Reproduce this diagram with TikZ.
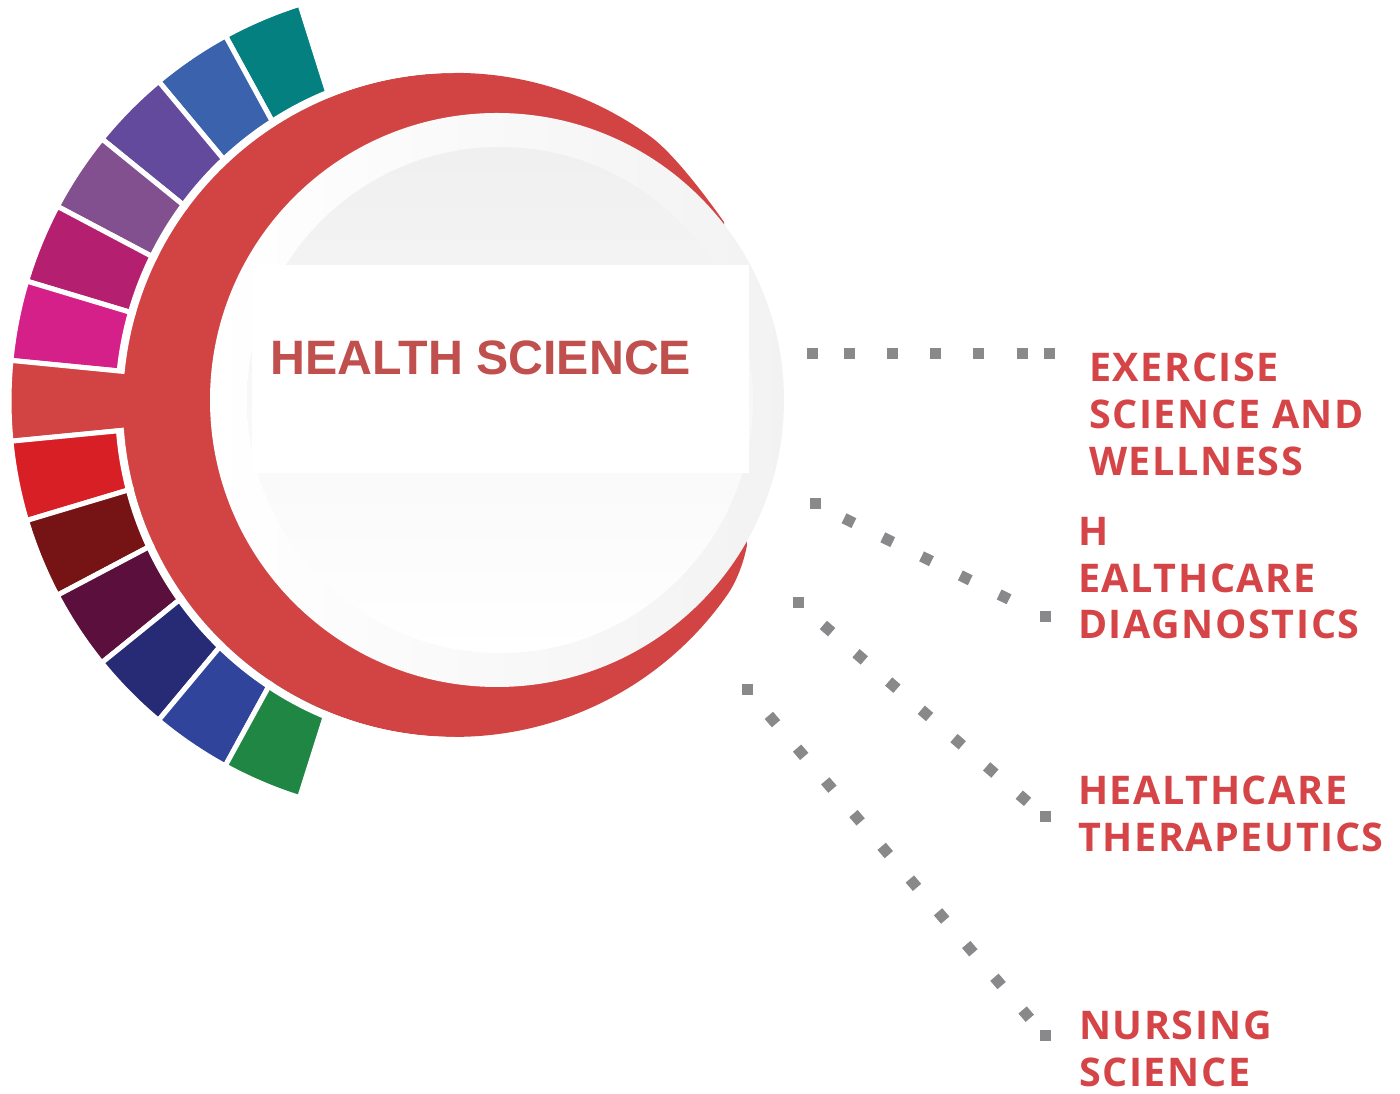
\documentclass[tikz,border=0pt]{standalone}
\usepackage{fontspec}
\newfontfamily\titlefont{Liberation Sans}
\newfontfamily\labelfont{Open Sans}[LetterSpace=4]

\definecolor{segteal}{RGB}{3,128,127}
\definecolor{segblue}{RGB}{58,98,173}
\definecolor{segpurple}{RGB}{100,74,156}
\definecolor{segviolet}{RGB}{131,80,143}
\definecolor{segmagenta}{RGB}{180,31,112}
\definecolor{segpink}{RGB}{213,32,137}
\definecolor{diskred}{RGB}{210,67,68}
\definecolor{segred}{RGB}{217,31,38}
\definecolor{segmaroon}{RGB}{118,19,21}
\definecolor{segplum}{RGB}{91,15,61}
\definecolor{segnavy}{RGB}{39,42,116}
\definecolor{segroyal}{RGB}{48,68,155}
\definecolor{seggreen}{RGB}{31,134,68}
\definecolor{dotgray}{RGB}{137,137,139}
\definecolor{titlered}{RGB}{192,80,78}
\definecolor{labelred}{RGB}{213,68,71}

\begin{document}
\begin{tikzpicture}[x=1pt, y=1pt,
    seg/.style={draw=white, line width=5pt},
    sq/.style={fill=dotgray, minimum size=11pt, inner sep=0pt},
    dotline/.style={draw=dotgray, line width=11pt, dash pattern=on 11pt off 32.2pt, dash phase=17.2pt, shorten >=3pt},
    lbl/.style={anchor=north west, inner sep=0pt, align=left, text=labelred,
        font=\labelfont\bfseries\fontsize{39.5}{46.8}\selectfont}]
\useasboundingbox (0,0) rectangle (1400,1094);
\coordinate (ring) at (425,693);
\coordinate (disc) at (455,689);
\coordinate (hub) at (497,694);

% colour band
\foreach \c [count=\i from 0] in {segteal,segblue,segpurple,segviolet,segmagenta,segpink,diskred,segred,segmaroon,segplum,segnavy,segroyal,seggreen} {
    \pgfmathsetmacro\a{107.5+11.15*\i}
    \pgfmathsetmacro\b{\a+11.15}
    \draw[seg, fill=\c, shift={(ring)}] (\a:280) -- (\a:416) arc[start angle=\a, end angle=\b, radius=416] -- (\b:280) arc[start angle=\b, end angle=\a, radius=280] -- cycle;
}

% red crescent and white centre
\fill[diskred] (724,872) .. controls (700,906) and (672,941) .. (652,956.3)
    arc[start angle=53.6, end angle=325.3, radius=332]
    .. controls (736.4,512.3) and (744,532) .. (747,549) -- cycle;
\draw[white, line width=8pt] (disc) ++(184.3:336) arc[start angle=184.3, end angle=270, radius=336];
\draw[white, line width=8pt] (disc) ++(90:336) arc[start angle=90, end angle=174.2, radius=336];
\shade[left color=white, right color=black!5] (hub) circle (287);
\shade[top color=black!6, bottom color=white] (500,694) circle (253);
\fill[white] (252,621) rectangle (749,829);
\node[text=titlered, font=\titlefont\bfseries\fontsize{48.3}{50}\selectfont, inner sep=0pt] (title) at (481,736) {HEALTH SCIENCE};

% connectors
\node[sq] (s1) at (812,740) {};
\node[sq] (e1) at (1049,740) {};
\node[sq] (s2) at (815,590) {};
\node[sq] (e2) at (1045,477) {};
\node[sq] (s3) at (798,491) {};
\node[sq] (e3) at (1045,277) {};
\node[sq] (s4) at (747,404) {};
\node[sq] (e4) at (1045,58) {};
\draw[dotline] (s1) -- (e1);
\draw[dotline] (s2) -- (e2);
\draw[dotline] (s3) -- (e3);
\draw[dotline] (s4) -- (e4);

% labels
\node[lbl] (exercise) at (1089,741) {EXERCISE\\SCIENCE AND\\WELLNESS};
\node[lbl] (diagnostics) at (1078,577) {H\\EALTHCARE\\DIAGNOSTICS};
\node[lbl] (therapeutics) at (1078,318) {HEALTHCARE\\THERAPEUTICS};
\node[lbl] (nursing) at (1079,83) {NURSING\\SCIENCE};
\end{tikzpicture}
\end{document}
